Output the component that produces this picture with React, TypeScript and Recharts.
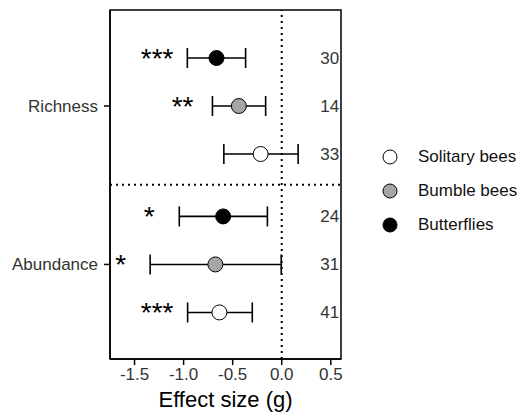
import React from 'react';
import {
    ScatterChart, Scatter, XAxis, YAxis, ErrorBar, ReferenceLine, ReferenceArea, Legend
} from 'recharts';

// rows top -> bottom (Richness group, then Abundance group)
const rowPos = [1, 2, 3, 4.3, 5.3, 6.3];
const taxa = ['Butterflies', 'Bumble bees', 'Solitary bees', 'Butterflies', 'Bumble bees', 'Solitary bees'];
const effect = [-0.665, -0.437, -0.215, -0.597, -0.676, -0.635];
const ciLow = [-0.962, -0.706, -0.59, -1.044, -1.341, -0.959];
const ciHigh = [-0.368, -0.164, 0.167, -0.146, -0.005, -0.30];
const sampleN = [30, 14, 33, 24, 31, 41];
const stars = ['***', '**', '', '*', '*', '***'];
const starX = [-1.27, -1.01, 0, -1.35, -1.64, -1.27];
const nX = 0.585;

const groupTicks = [2, 5.3];
const groupLabels = ['Richness', 'Abundance'];
const xTicks = [-1.5, -1.0, -0.5, 0.0, 0.5];
const legendItems = ['Solitary bees', 'Bumble bees', 'Butterflies'];

const FILLS: Record<string, string> = {
    'Solitary bees': '#ffffff',
    'Bumble bees': '#a6a6a6',
    'Butterflies': '#000000',
};

const X_DOMAIN = [-1.75, 0.604];
const Y_DOMAIN = [0, 7.27];

const points = rowPos.map((y, i) => ({
    x: effect[i],
    y,
    taxon: taxa[i],
    err: [effect[i] - ciLow[i], ciHigh[i] - effect[i]],
}));
const starData = rowPos.map((y, i) => ({ x: starX[i], y, label: stars[i] })).filter(d => d.label);
const nData = rowPos.map((y, i) => ({ x: nX, y, label: String(sampleN[i]) }));

const font = 'Arial, "Liberation Sans", sans-serif';

function LegendBox() {
    return (
        <div style={{ fontFamily: font, fontSize: 17, color: '#111' }}>
            {legendItems.map(name => (
                <div key={name} style={{ display: 'flex', alignItems: 'center', height: 34 }}>
                    <svg width={16} height={16} style={{ marginRight: 20 }}>
                        <circle cx={8} cy={8} r={7} fill={FILLS[name]} stroke="#000" strokeWidth={1} />
                    </svg>
                    <span>{name}</span>
                </div>
            ))}
        </div>
    );
}

export default function App() {
    return (
        <div style={{ position: 'absolute', left: 0, top: 0, fontFamily: font }}>
            <ScatterChart width={519} height={414} margin={{ top: 10, right: 178, bottom: 0, left: 0 }}>
                <XAxis
                    type="number"
                    dataKey="x"
                    domain={X_DOMAIN}
                    ticks={xTicks}
                    allowDataOverflow
                    height={55}
                    tickFormatter={(v: number) => v.toFixed(1)}
                    tick={{ fill: '#333', fontSize: 17 }}
                    tickSize={6}
                    tickMargin={3}
                    stroke="#000"
                    strokeWidth={1.5}
                    label={{ value: 'Effect size (g)', position: 'insideBottom', offset: 7, fontSize: 22, fill: '#000' }}
                />
                <YAxis
                    type="number"
                    dataKey="y"
                    domain={Y_DOMAIN}
                    reversed
                    ticks={groupTicks}
                    allowDataOverflow
                    width={110}
                    tickFormatter={(v: number) => groupLabels[groupTicks.indexOf(v)] ?? ''}
                    tick={{ fill: '#333', fontSize: 17 }}
                    tickSize={6}
                    tickMargin={6}
                    stroke="#000"
                    strokeWidth={1.5}
                />
                <ReferenceArea x1={X_DOMAIN[0]} x2={X_DOMAIN[1]} y1={Y_DOMAIN[0]} y2={Y_DOMAIN[1]}
                    fill="none" stroke="#000" strokeWidth={1.5} />
                <ReferenceLine x={0} stroke="#000" strokeWidth={2} strokeDasharray="2 4" />
                <ReferenceLine y={3.64} stroke="#000" strokeWidth={2} strokeDasharray="2 4" />
                <Scatter
                    data={points}
                    isAnimationActive={false}
                    shape={(p: any) => (
                        <circle cx={p.cx} cy={p.cy} r={7.5} fill={FILLS[p.payload.taxon]} stroke="#000" strokeWidth={1} />
                    )}
                >
                    <ErrorBar dataKey="err" direction="x" width={10} stroke="#000" strokeWidth={1.6} />
                </Scatter>
                <Scatter
                    data={starData}
                    isAnimationActive={false}
                    shape={(p: any) => (
                        <text x={p.cx} y={p.cy + 10} textAnchor="middle" fontSize={28} fill="#000">{p.payload.label}</text>
                    )}
                />
                <Scatter
                    data={nData}
                    isAnimationActive={false}
                    shape={(p: any) => (
                        <text x={p.cx} y={p.cy + 6} textAnchor="end" fontSize={17} fill="#333">{p.payload.label}</text>
                    )}
                />
                <Legend
                    layout="vertical"
                    align="center"
                    verticalAlign="middle"
                    content={() => <LegendBox />}
                    wrapperStyle={{ left: 382, top: 140, width: 137 }}
                />
            </ScatterChart>
        </div>
    );
}
